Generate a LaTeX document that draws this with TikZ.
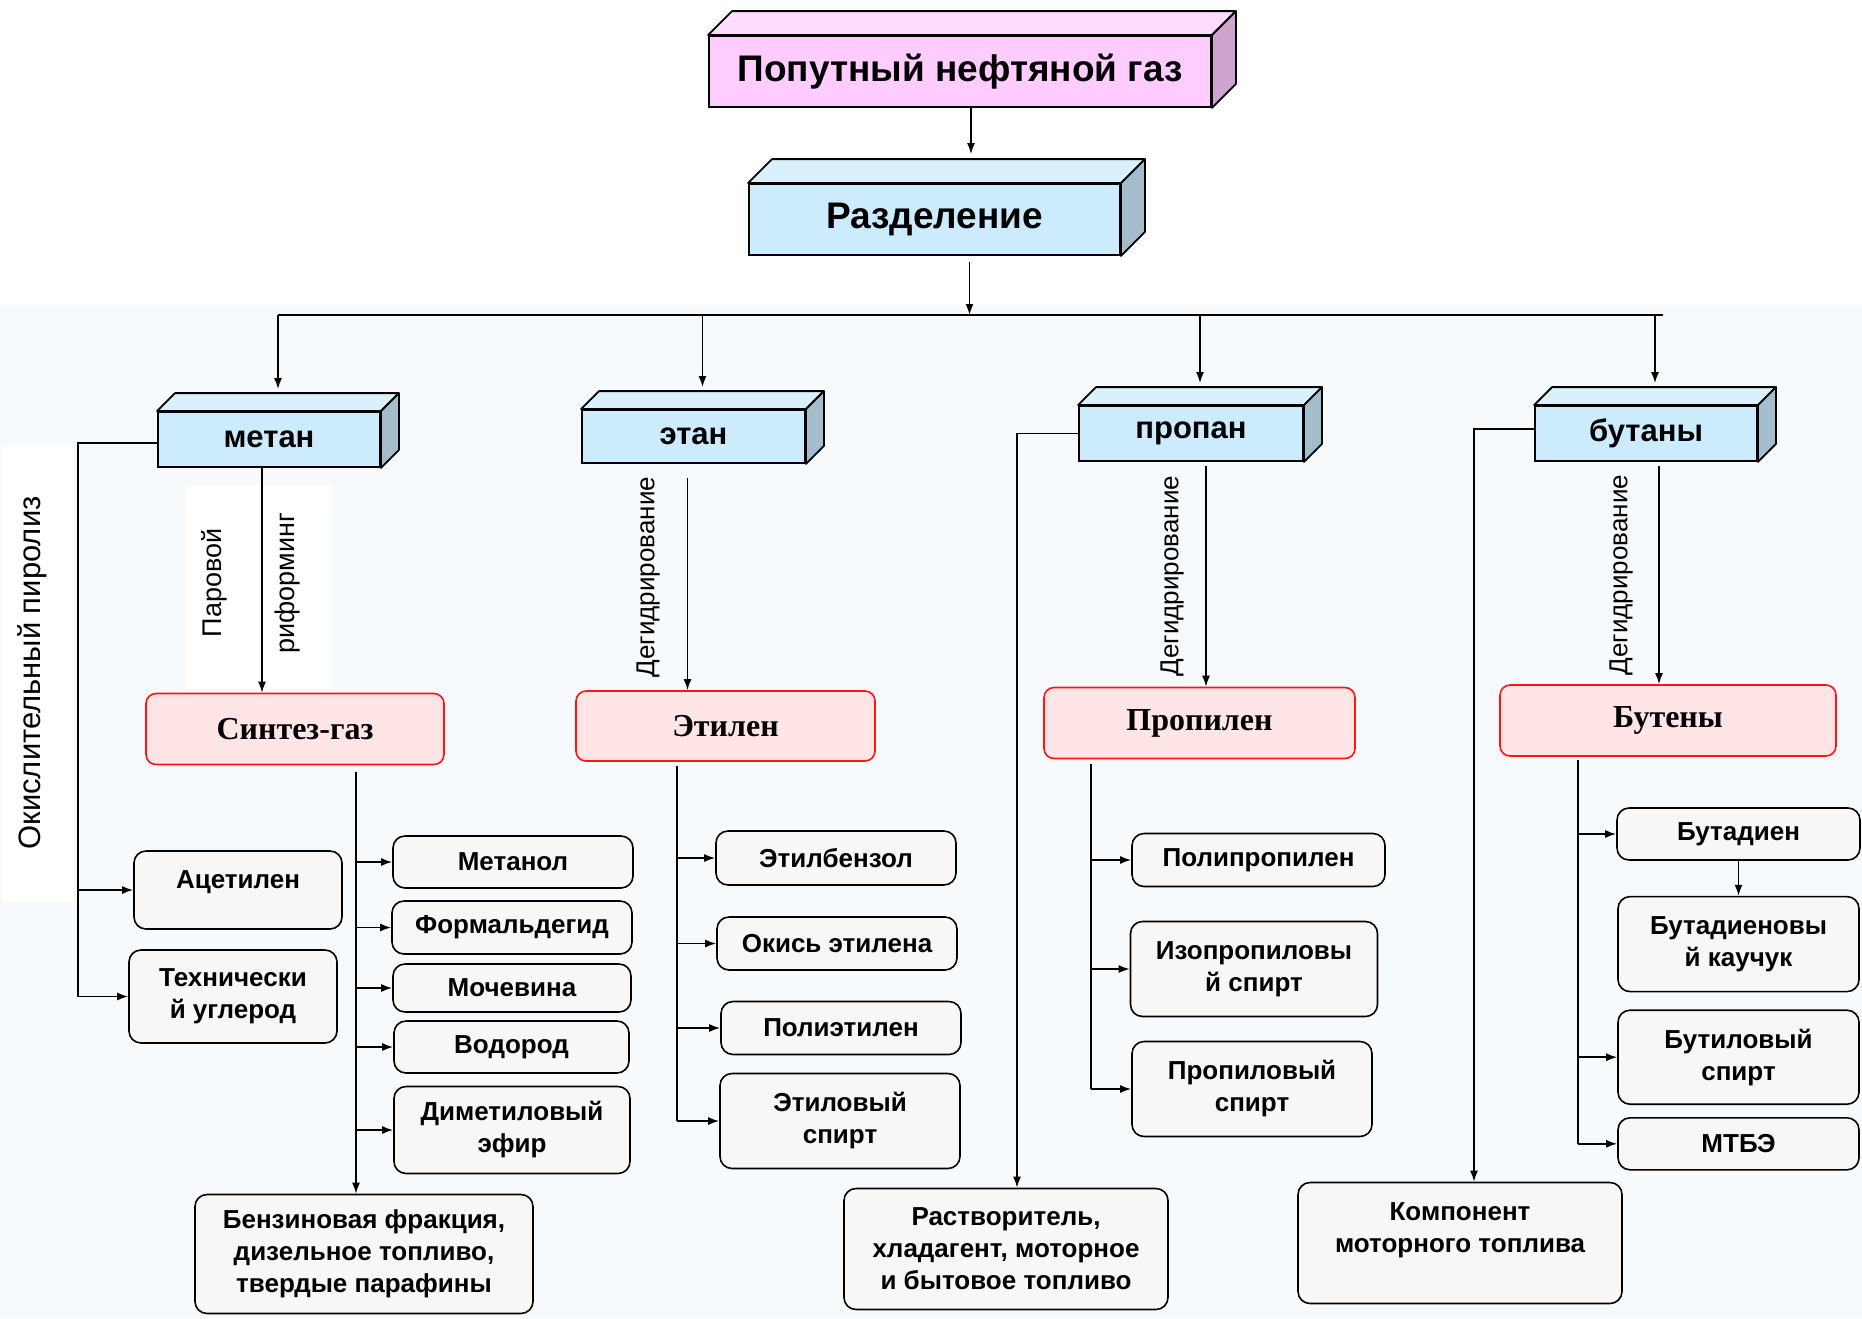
\documentclass[tikz,border=0pt]{standalone}
\usepackage{fontspec}
\setmainfont{Liberation Sans}
\newfontfamily\titleserif{Liberation Serif}
\usetikzlibrary{arrows.meta,positioning}

\definecolor{gasfront}{HTML}{FFCCFF}
\definecolor{gastop}{HTML}{FFDDFF}
\definecolor{gasside}{HTML}{CFA3CC}
\definecolor{slabfront}{HTML}{CCEBFC}
\definecolor{slabtop}{HTML}{DAF1FD}
\definecolor{slabside}{HTML}{A3BDCC}
\definecolor{prodfill}{HTML}{FFE5E5}
\definecolor{prodedge}{HTML}{FF1414}
\definecolor{itemfill}{HTML}{F7F7F7}
\definecolor{pagetint}{HTML}{F6FAFD}

\begin{document}
\begin{tikzpicture}[
  x=1pt, y=-1pt,
  slab/.style={draw,line width=1.8pt,fill=slabfront,inner sep=0pt,font=\bfseries\fontsize{31pt}{36pt}\selectfont},
  prod/.style={draw=prodedge,fill=prodfill,rounded corners=10pt,line width=1.6pt,inner sep=0pt,font=\titleserif\bfseries\fontsize{32pt}{36pt}\selectfont},
  item/.style={draw,fill=itemfill,rounded corners=12pt,line width=1.6pt,inner sep=0pt,align=center,font=\bfseries\fontsize{26pt}{32pt}\selectfont},
  vlabel/.style={rotate=90,inner sep=0pt,font=\fontsize{26pt}{30pt}\selectfont},
  link/.style={line width=1.7pt},
  >={Latex[length=11pt,width=8pt]}
]
\useasboundingbox (0,0) rectangle (1862,1318);
\fill[white] (0,0) rectangle (1862,306);
\fill[pagetint] (0,306) rectangle (1862,1318);
% white patches behind the side labels
\fill[white] (2,445) rectangle (74,902);
\fill[white] (186,485) rectangle (332,689);

% feed and separation
\node[slab,fill=gasfront,minimum width=502pt,minimum height=71pt,font=\bfseries\fontsize{37pt}{40pt}\selectfont] (png) at (960,71.5) {Попутный нефтяной газ};
\node[slab,minimum width=371pt,minimum height=71pt,font=\bfseries\fontsize{37pt}{40pt}\selectfont] (sep) at (934.5,219.5) {Разделение};

% fractions
\node[slab,minimum width=222pt,minimum height=55pt] (met) at (269,439.5) {метан};
\node[slab,minimum width=223pt,minimum height=53pt] (eth) at (693.5,436.5) {этан};
\node[slab,minimum width=224pt,minimum height=55pt] (prp) at (1191,433.5) {пропан};
\node[slab,minimum width=222pt,minimum height=55pt] (but) at (1646,433.5) {бутаны};

\foreach \n/\d/\tc/\sc in {png/24/gastop/gasside,sep/24/slabtop/slabside,met/18/slabtop/slabside,eth/18/slabtop/slabside,prp/18/slabtop/slabside,but/18/slabtop/slabside}{
  \draw[line width=1.8pt,fill=\tc,line join=round] (\n.north west) -- ++(\d,-\d) -- ([shift={(\d,-\d)}]\n.north east) -- (\n.north east) -- cycle;
  \draw[line width=1.8pt,fill=\sc,line join=round] (\n.north east) -- ++(\d,-\d) -- ([shift={(\d,-\d)}]\n.south east) -- (\n.south east) -- cycle;
}

% intermediates
\node[prod,minimum width=298pt,minimum height=71pt] (sg) at (295,729) {Синтез-газ};
\node[prod,minimum width=299pt,minimum height=70pt] (etl) at (725.5,726) {Этилен};
\node[prod,minimum width=311pt,minimum height=71pt] (ppl) at (1199.5,723) {Пропилен};
\node[prod,minimum width=336pt,minimum height=71pt] (btn) at (1668,720.5) {Бутены};

% products of methane
\node[item,minimum width=208pt,minimum height=78pt,text depth=20pt] (acet) at (238,890) {Ацетилен};
\node[item,minimum width=208pt,minimum height=93pt] (carb) at (233,996.5) {Технически\\й углерод};
\node[item,minimum width=240pt,minimum height=52pt] (meoh) at (513,862) {Метанол};
\node[item,minimum width=240pt,minimum height=53pt] (form) at (512,927.5) {Формальдегид};
\node[item,minimum width=238pt,minimum height=48pt] (urea) at (512,988) {Мочевина};
\node[item,minimum width=235pt,minimum height=52pt] (hydr) at (511.5,1047) {Водород};
\node[item,minimum width=236pt,minimum height=87pt] (dme) at (512,1130) {Диметиловый\\эфир};
\node[item,minimum width=338pt,minimum height=119pt] (benz) at (364,1254) {Бензиновая фракция,\\дизельное топливо,\\твердые парафины};

% products of ethane
\node[item,minimum width=240pt,minimum height=54pt] (ebz) at (836,858) {Этилбензол};
\node[item,minimum width=240pt,minimum height=53pt] (eox) at (837,943.5) {Окись этилена};
\node[item,minimum width=240pt,minimum height=53pt] (pe) at (841,1028) {Полиэтилен};
\node[item,minimum width=240pt,minimum height=95pt] (etoh) at (840,1121) {Этиловый\\спирт};

% products of propane
\node[item,minimum width=253pt,minimum height=53pt] (pp) at (1258.5,860) {Полипропилен};
\node[item,minimum width=247pt,minimum height=95pt] (ipa) at (1254,969) {Изопропиловы\\й спирт};
\node[item,minimum width=240pt,minimum height=95pt] (npa) at (1252,1089) {Пропиловый\\спирт};
\node[item,minimum width=324pt,minimum height=121pt] (solv) at (1006,1249) {Растворитель,\\хладагент, моторное\\и бытовое топливо};

% products of butanes
\node[item,minimum width=243pt,minimum height=52pt] (bd) at (1738.5,834) {Бутадиен};
\node[item,minimum width=241pt,minimum height=95pt,below=35pt of bd] (bdr) {Бутадиеновы\\й каучук};
\node[item,minimum width=241pt,minimum height=94pt,below=17pt of bdr] (buoh) {Бутиловый\\спирт};
\node[item,minimum width=241pt,minimum height=52pt,below=12pt of buoh] (mtbe) {МТБЭ};
\node[item,minimum width=324pt,minimum height=121pt,text depth=30pt] (fuel) at (1460,1243) {Компонент\\моторного топлива};

% process labels
\node[vlabel,font=\fontsize{31pt}{36pt}\selectfont] (oxpyr) at (32,673) {Окислительный пиролиз};
\node[vlabel,align=center,font=\fontsize{27pt}{73pt}\selectfont] (steam) at (250.5,583) {Паровой\\риформинг};
\node[vlabel] (dh1) at (648,577) {Дегидрирование};
\node[vlabel] (dh2) at (1172,576) {Дегидрирование};
\node[vlabel] (dh3) at (1621,575) {Дегидрирование};

% main flow
\coordinate (png-out) at ([xshift=11pt]png.south);
\coordinate (sep-in) at ([yshift=29pt]sep.north);
\draw[link,->] (png-out) -- (png-out |- sep-in);
\coordinate (busL) at (278,315);
\coordinate (busR) at (1663,315);
\coordinate (sep-out) at ([xshift=35pt,yshift=-6pt]sep.south);
\draw[link,->] (sep-out) -- (sep-out |- busL);
\draw[link,line width=2pt] (busL) -- (busR);
\foreach \n in {met,eth,prp,but}{
  \coordinate (\n-in) at ([xshift=9pt,yshift=22pt]\n.north);
  \draw[link,->] (\n-in |- busL) -- (\n-in);
}

% fraction -> intermediate
\coordinate (met-out) at ([xshift=-7pt]met.south);
\draw[link,->] (met-out) -- (met-out |- sg.north);
\coordinate (eth-out) at ([xshift=-6pt,yshift=-14pt]eth.south);
\draw[link,->] (eth-out) -- (eth-out |- etl.north);
\coordinate (prp-out) at ([xshift=15pt,yshift=-4pt]prp.south);
\draw[link,->] (prp-out) -- (prp-out |- ppl.north);
\coordinate (but-out) at ([xshift=13pt,yshift=-4pt]but.south);
\draw[link,->] (but-out) -- (but-out |- btn.north);

% side branches
\coordinate (metL) at (78,443);
\draw[link] (met.west |- metL) -- (metL) -- (metL |- carb.west);
\draw[link,->] (metL |- acet.west) -- (acet.west);
\draw[link,->] (metL |- carb.west) -- (carb.west);
\coordinate (prpL) at (1017,433.5);
\draw[link,->] (prp.west) -- (prpL) -- (prpL |- solv.north);
\coordinate (butL) at (1474,429);
\draw[link,->] (but.west |- butL) -- (butL) -- (butL |- fuel.north);

% trunks
\coordinate (sgT) at (356,772);
\draw[link,->] (sgT) -- (sgT |- benz.north);
\foreach \n in {meoh,form,urea,hydr,dme}
  \draw[link,->] (sgT |- \n.west) -- (\n.west);
\coordinate (etT) at (677,766);
\draw[link] (etT) -- (etT |- etoh.west);
\foreach \n in {ebz,eox,pe,etoh}
  \draw[link,->] (etT |- \n.west) -- (\n.west);
\coordinate (ppT) at (1091,764);
\draw[link] (ppT) -- (ppT |- npa.west);
\foreach \n in {pp,ipa,npa}
  \draw[link,->] (ppT |- \n.west) -- (\n.west);
\coordinate (btT) at (1578,760);
\draw[link] (btT) -- (btT |- mtbe.west);
\foreach \n in {bd,buoh,mtbe}
  \draw[link,->] (btT |- \n.west) -- (\n.west);
\draw[link,->] (bd) -- (bdr);
\end{tikzpicture}
\end{document}
